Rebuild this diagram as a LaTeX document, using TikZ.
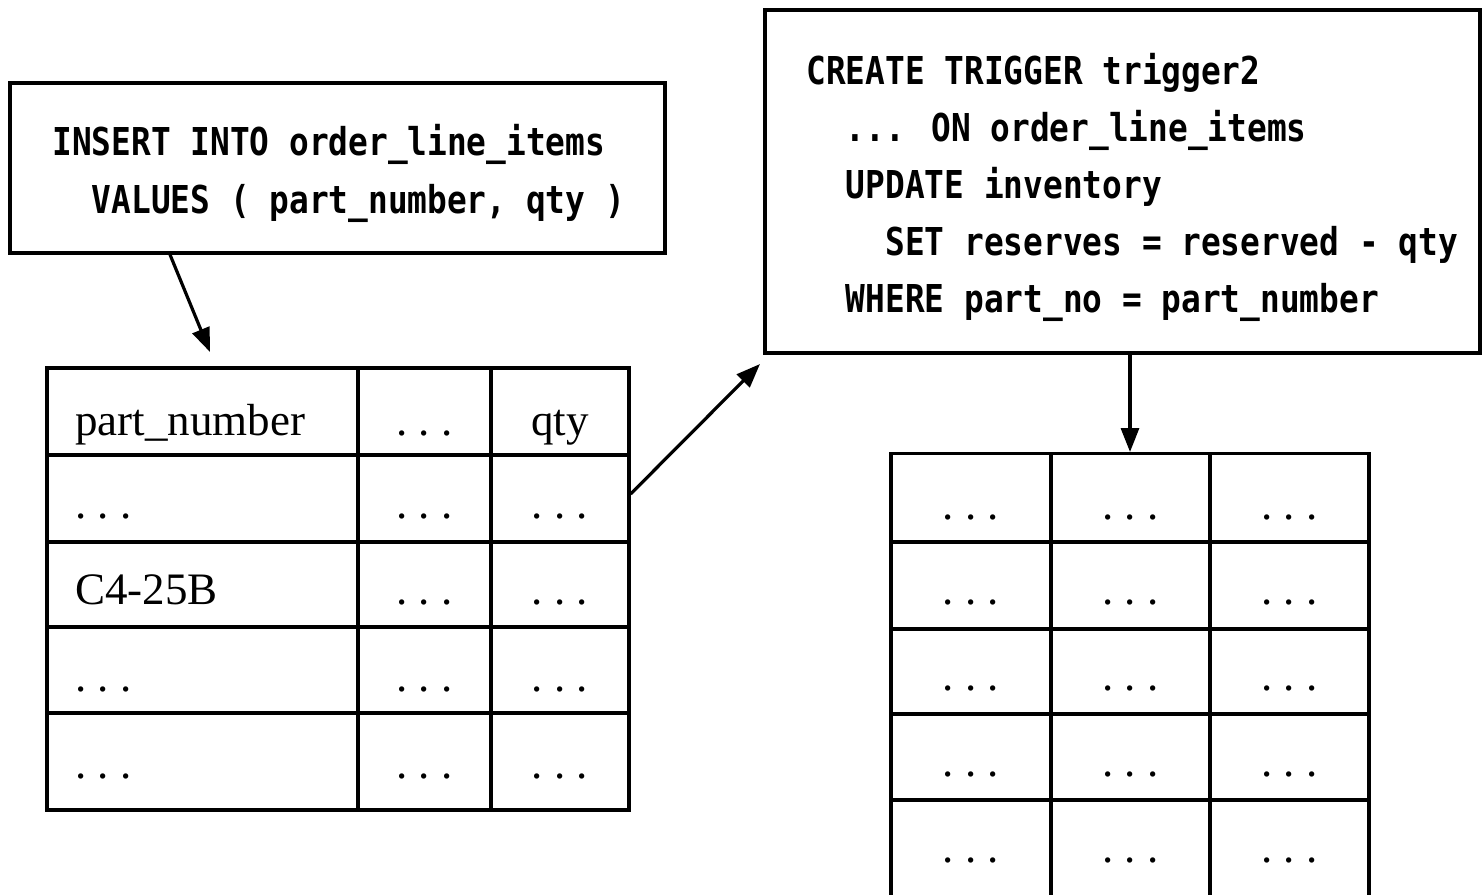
\documentclass[tikz,border=0pt]{standalone}
\usepackage{fontspec}
\setmainfont{Liberation Serif}
\newfontfamily\codefont[FakeStretch=0.854]{DejaVu Sans Mono}
\usetikzlibrary{arrows.meta}
\newcommand{\dd}{.\ .\ .}
\begin{document}
\begin{tikzpicture}[x=0.5pt,y=-0.5pt,
  frame/.style={draw, line width=1.6pt, inner sep=0pt},
  rule/.style={line width=1.6pt},
  code/.style={anchor=base west, inner sep=0pt, font=\codefont\bfseries\fontsize{19.2pt}{23pt}\selectfont},
  cellw/.style={anchor=base west, inner sep=0pt, font=\fontsize{22.5pt}{26pt}\selectfont},
  cellc/.style={anchor=base, inner sep=0pt, font=\fontsize{22.5pt}{26pt}\selectfont},
  arr/.style={line width=1.6pt, -{Triangle[length=12pt,width=9pt]}}]
\useasboundingbox (0,0) rectangle (1482,894);
\fill[white] (0,0) rectangle (1482,894);
\begin{scope}
\clip (0,0) rectangle (1482,894);

% INSERT statement box
\node[frame, minimum width=327.5pt, minimum height=85pt] (ins) at (337.5,168) {};
\node[code] (ins1) at (52,155) {INSERT INTO order\_line\_items};
\node[code] (ins2) at (52,213) {\hphantom{xx}VALUES ( part\_number, qty )};

% trigger box
\node[frame, minimum width=357.5pt, minimum height=171.5pt] (trg) at (1122.5,181.5) {};
\node[code] (trg1) at (806,84)  {CREATE TRIGGER trigger2};
\node[code] (trg2) at (806,141) {\hphantom{xx}... ON order\_line\_items};
\node[code] (trg3) at (806,198) {\hphantom{xx}UPDATE inventory};
\node[code] (trg4) at (806,255) {\hphantom{xxxx}SET reserves = reserved - qty};
\node[code] (trg5) at (806,312) {\hphantom{xx}WHERE part\_no = part\_number};

% order_line_items table
\node[frame, minimum width=291pt, minimum height=221pt] (lt) at (338,589) {};
\draw[rule] (358,368) -- (358,810);
\draw[rule] (491,368) -- (491,810);
\foreach \y in {455,542,627,713} \draw[rule] (47,\y) -- (629,\y);
\node[cellw] (lth1) at (75,435) {part\_number};
\node[cellc] (lth2) at (424.5,435) {\dd};
\node[cellc] (lth3) at (560,435) {qty};
\foreach \y/\n in {518/1,604/2,691/3,778/4} {
  \node[cellc] (ltb\n) at (424.5,\y) {\dd};
  \node[cellc] (ltc\n) at (560,\y) {\dd};
}
\node[cellw] (lta1) at (75,518) {\dd};
\node[cellw] (lta2) at (75,604) {C4-25B};
\node[cellw] (lta3) at (75,691) {\dd};
\node[cellw] (lta4) at (75,778) {\dd};

% inventory table
\node[frame, minimum width=239pt, minimum height=224pt, anchor=north] (rt) at (1130,452) {};
\draw[rule] (1051,452) -- (1051,900);
\draw[rule] (1210,452) -- (1210,900);
\foreach \y in {542,629,714,800} \draw[rule] (891,\y) -- (1369,\y);
\foreach \y/\n in {519/1,604/2,690/3,776/4,862/5} {
  \node[cellc] (rta\n) at (971,\y) {\dd};
  \node[cellc] (rtb\n) at (1130.5,\y) {\dd};
  \node[cellc] (rtc\n) at (1289.5,\y) {\dd};
}

% connectors
\coordinate (tipA) at (210,352);
\coordinate (tipB) at (760,364);
\draw[arr] ([xshift=-83.75pt]ins.south) -- (tipA);
\draw[arr] ([yshift=47.5pt]lt.east) -- (tipB);
\draw[arr] ([xshift=3.75pt]trg.south) -- (rt.north);
\end{scope}
\end{tikzpicture}
\end{document}
